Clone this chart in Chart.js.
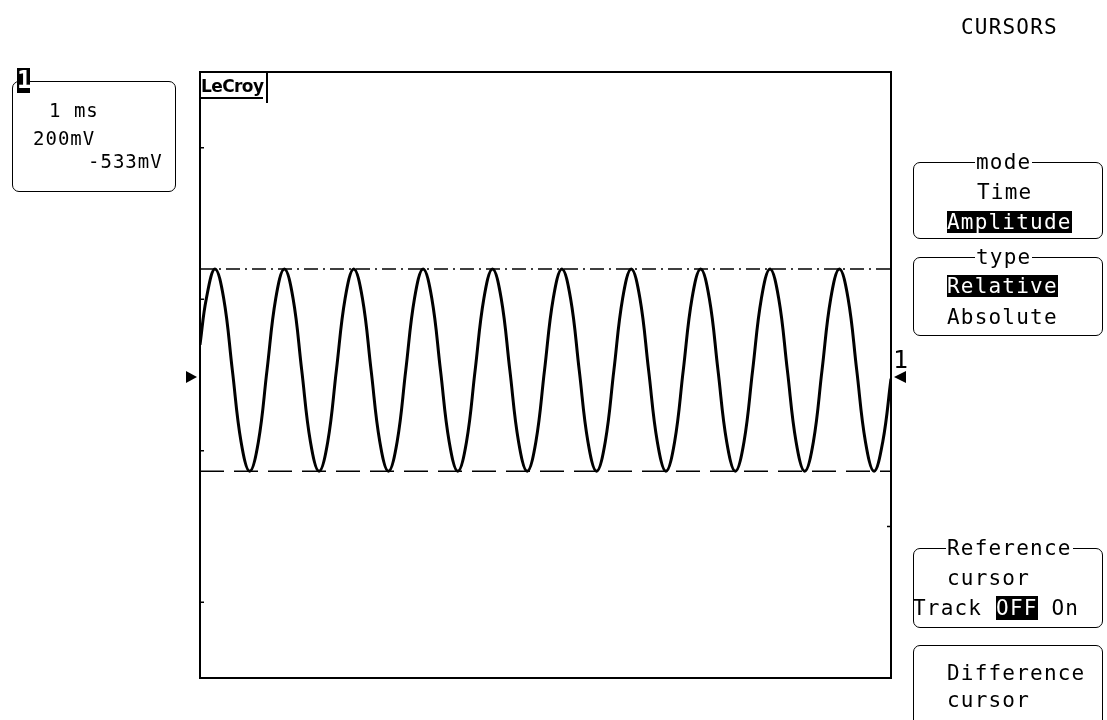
<!DOCTYPE html>
<html>
<head>
<meta charset="utf-8">
<script src="https://cdn.jsdelivr.net/npm/chart.js@4.4.0/dist/chart.umd.min.js"></script>
<style>
  body { margin: 0; background: #fff; }
  #wrap { position: relative; width: 1107px; height: 720px; overflow: hidden; }
  #scope { position: absolute; left: 0; top: 0; }
  .t { position: absolute; font-family: "DejaVu Sans Mono", monospace; font-size: 21px; letter-spacing: 1.2px; line-height: 22px; color: #000; white-space: pre; }
  .s { font-size: 19px; letter-spacing: 1px; }
  .inv { background: #000; color: #fff; }
  .box { position: absolute; border: 1.5px solid #000; border-radius: 7px; }
  .ttl { background: #fff; padding: 0 1px; }
</style>
</head>
<body>
<div id="wrap">
  <canvas id="scope" width="1107" height="720"></canvas>

  <!-- channel 1 box -->
  <div class="box" style="left:12px;top:81px;width:162px;height:109px;"></div>
  <div style="position:absolute;left:17px;top:68px;width:13px;height:25px;background:#000;"></div>
  <div class="t" style="left:17px;top:68px;color:#fff;font-weight:bold;font-size:24px;letter-spacing:0;line-height:25px;">1</div>
  <div class="t s" style="left:49px;top:99px;">1 ms</div>
  <div class="t s" style="left:33px;top:127px;">200mV</div>
  <div class="t s" style="left:88px;top:150px;">-533mV</div>

  <!-- LeCroy tag -->
  <div style="position:absolute;left:201px;top:76px;font-family:'DejaVu Sans',sans-serif;font-weight:bold;font-size:17px;letter-spacing:-0.6px;line-height:21px;border-bottom:2px solid #000;">LeCroy</div>
  <div style="position:absolute;left:266px;top:72px;width:1.5px;height:31px;background:#000;"></div>

  <!-- trace 1 label on the right -->
  <div class="t" style="left:893px;top:347px;font-size:25px;letter-spacing:0;line-height:26px;">1</div>

  <!-- menu -->
  <div class="t" style="left:961px;top:16px;">CURSORS</div>

  <div class="box" style="left:913px;top:162px;width:188px;height:75px;"></div>
  <div class="t ttl" style="left:975px;top:151px;">mode</div>
  <div class="t" style="left:977px;top:181px;">Time</div>
  <div class="t inv" style="left:947px;top:211px;">Amplitude</div>

  <div class="box" style="left:913px;top:257px;width:188px;height:77px;"></div>
  <div class="t ttl" style="left:975px;top:246px;">type</div>
  <div class="t inv" style="left:947px;top:275px;">Relative</div>
  <div class="t" style="left:947px;top:306px;">Absolute</div>

  <div class="box" style="left:913px;top:548px;width:188px;height:78px;"></div>
  <div class="t ttl" style="left:946px;top:537px;">Reference</div>
  <div class="t" style="left:947px;top:567px;">cursor</div>
  <div class="t" style="left:913px;top:597px;">Track <span class="inv">OFF</span> On</div>

  <div class="box" style="left:913px;top:645px;width:188px;height:90px;"></div>
  <div class="t" style="left:947px;top:662px;">Difference</div>
  <div class="t" style="left:947px;top:689px;">cursor</div>
</div>

<script>
// time axis: 10 divisions at 1 ms/div
var timeMin = 0;
var timeMax = 10;
// vertical: 8 divisions at 200 mV/div, centred on the screen
var voltMin = -800;
var voltMax = 800;

// trace samples (ms, mV)
var traceTimes = [
  0.000,
  0.092, 0.217, 0.343, 0.468, 0.594, 0.719, 0.845, 0.970,
  1.096, 1.221, 1.347, 1.472, 1.598, 1.723, 1.849, 1.974,
  2.100, 2.225, 2.351, 2.476, 2.602, 2.727, 2.853, 2.978,
  3.104, 3.229, 3.355, 3.480, 3.606, 3.731, 3.857, 3.982,
  4.108, 4.233, 4.359, 4.484, 4.610, 4.735, 4.861, 4.986,
  5.112, 5.237, 5.363, 5.488, 5.614, 5.739, 5.865, 5.990,
  6.116, 6.241, 6.367, 6.492, 6.618, 6.743, 6.869, 6.994,
  7.120, 7.245, 7.371, 7.496, 7.622, 7.747, 7.873, 7.998,
  8.124, 8.249, 8.375, 8.500, 8.626, 8.751, 8.877, 9.002,
  9.128, 9.253, 9.379, 9.504, 9.630, 9.755, 9.881, 10.000
];
var traceVolts = [
  80,
  202, 280, 202, 13, -176, -254, -176, 13,
  202, 280, 202, 13, -176, -254, -176, 13,
  202, 280, 202, 13, -176, -254, -176, 13,
  202, 280, 202, 13, -176, -254, -176, 13,
  202, 280, 202, 13, -176, -254, -176, 13,
  202, 280, 202, 13, -176, -254, -176, 13,
  202, 280, 202, 13, -176, -254, -176, 13,
  202, 280, 202, 13, -176, -254, -176, 13,
  202, 280, 202, 13, -176, -254, -176, 13,
  202, 280, 202, 13, -176, -254, -176, -10
];

// amplitude cursors (mV): reference, difference
var refCursor = 280;
var diffCursor = -254;
// trace level marker (mV)
var markerLevel = -5;
// small division marks on the frame (mV)
var leftMarks = [600, 200, -200, -600];
var rightMarks = [-400];

var tracePoints = traceTimes.map(function(t, i) { return { x: t, y: traceVolts[i] }; });

var framePlugin = {
  id: 'frame',
  afterDraw: function(chart) {
    var ctx = chart.ctx;
    var a = chart.chartArea;
    var ys = chart.scales.y;
    ctx.save();
    ctx.strokeStyle = '#000';
    ctx.lineWidth = 2;
    ctx.strokeRect(a.left, a.top, a.right - a.left, a.bottom - a.top);
    ctx.lineWidth = 1.5;
    leftMarks.forEach(function(v) {
      var y = ys.getPixelForValue(v);
      ctx.beginPath(); ctx.moveTo(a.left, y); ctx.lineTo(a.left + 4, y); ctx.stroke();
    });
    rightMarks.forEach(function(v) {
      var y = ys.getPixelForValue(v);
      ctx.beginPath(); ctx.moveTo(a.right, y); ctx.lineTo(a.right - 4, y); ctx.stroke();
    });
    // level markers
    var my = ys.getPixelForValue(markerLevel);
    ctx.fillStyle = '#000';
    ctx.beginPath();
    ctx.moveTo(a.left - 14, my - 6); ctx.lineTo(a.left - 3, my); ctx.lineTo(a.left - 14, my + 6);
    ctx.closePath(); ctx.fill();
    ctx.beginPath();
    ctx.moveTo(a.right + 15, my - 6); ctx.lineTo(a.right + 3, my); ctx.lineTo(a.right + 15, my + 6);
    ctx.closePath(); ctx.fill();
    ctx.restore();
  }
};

var ctx = document.getElementById('scope').getContext('2d');
var scopeChart = new Chart(ctx, {
  type: 'line',
  data: {
    datasets: [
      {
        label: 'CH1',
        data: tracePoints,
        borderColor: '#000',
        borderWidth: 3,
        pointRadius: 0,
        tension: 0.4,
        fill: false
      },
      {
        label: 'Reference cursor',
        data: [{ x: timeMin, y: refCursor }, { x: timeMax, y: refCursor }],
        borderColor: '#000',
        borderWidth: 1.5,
        borderDash: [14, 5, 2, 5],
        pointRadius: 0,
        fill: false
      },
      {
        label: 'Difference cursor',
        data: [{ x: timeMin, y: diffCursor }, { x: timeMax, y: diffCursor }],
        borderColor: '#000',
        borderWidth: 1.5,
        borderDash: [24, 10],
        pointRadius: 0,
        fill: false
      }
    ]
  },
  options: {
    responsive: false,
    animation: false,
    devicePixelRatio: 1,
    layout: { padding: { left: 200, right: 216, top: 72, bottom: 42 } },
    scales: {
      x: { type: 'linear', min: timeMin, max: timeMax, display: false },
      y: { type: 'linear', min: voltMin, max: voltMax, display: false }
    },
    plugins: {
      legend: { display: false },
      tooltip: { enabled: false }
    }
  },
  plugins: [framePlugin]
});
</script>
</body>
</html>
